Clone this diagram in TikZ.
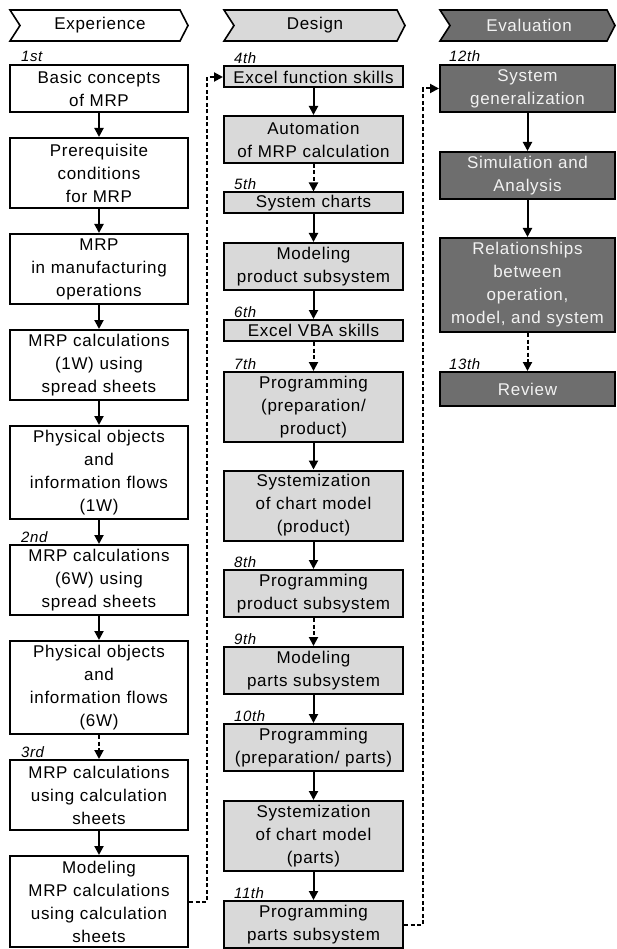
\documentclass[tikz,border=0pt]{standalone}
\usepackage{fontspec}
\setmainfont{Liberation Sans}[LetterSpace=4.0]
\usetikzlibrary{arrows.meta}

\definecolor{designfill}{HTML}{D9D9D9}
\definecolor{evalfill}{HTML}{6E6E6E}
\definecolor{evaltext}{HTML}{F2F2F2}

\begin{document}
\begin{tikzpicture}[x=1pt,y=-1pt,
  stage/.style={draw=black, line width=2pt, inner sep=0pt, align=center,
    font=\fontsize{17}{23}\selectfont},
  expbox/.style={stage, fill=white, minimum width=178pt, text width=176pt},
  desbox/.style={stage, fill=designfill, minimum width=179pt, text width=177pt},
  evbox/.style={stage, fill=evalfill, text=evaltext, minimum width=175pt, text width=173pt},
  hdrshape/.style={draw=black, line width=1.6pt},
  hdrtext/.style={inner sep=0pt, font=\fontsize{17}{20}\selectfont},
  lab/.style={inner sep=0pt, anchor=base west, font=\itshape\fontsize{15}{15}\selectfont},
  flow/.style={line width=2pt, -{Triangle[length=9pt,width=9pt]}},
  dflow/.style={flow, dash pattern=on 4pt off 2.5pt},
]
\useasboundingbox (0,0) rectangle (616,949);
\fill[white] (0,0) rectangle (616,949);

% phase headers
\draw[hdrshape, fill=white] (10,10) -- (180,10) -- (188,25.5) -- (180,41) -- (10,41) -- (20,25.5) -- cycle;
\node[hdrtext] (h1) at (100,25.5) {Experience};
\draw[hdrshape, fill=designfill] (224,10) -- (397,10) -- (405,25.5) -- (397,41) -- (224,41) -- (234,25.5) -- cycle;
\node[hdrtext] (h2) at (315,25.5) {Design};
\draw[hdrshape, fill=evalfill] (440,10) -- (607,10) -- (615,25.5) -- (607,41) -- (440,41) -- (450,25.5) -- cycle;
\node[hdrtext, text=evaltext] (h3) at (529,25.5) {Evaluation};

% Experience column
\node[expbox, minimum height=47pt] (b1) at (99,88.5) {Basic concepts\\of MRP};
\node[expbox, minimum height=70pt] (b2) at (99,173) {Prerequisite\\conditions\\for MRP};
\node[expbox, minimum height=70pt] (b3) at (99,269) {MRP\\in manufacturing\\operations};
\node[expbox, minimum height=70pt] (b4) at (99,365) {MRP calculations\\(1W) using\\spread sheets};
\node[expbox, minimum height=93pt] (b5) at (99,472.5) {Physical objects\\and\\information flows\\(1W)};
\node[expbox, minimum height=70pt] (b6) at (99,580) {MRP calculations\\(6W) using\\spread sheets};
\node[expbox, minimum height=93pt] (b7) at (99,687.5) {Physical objects\\and\\information flows\\(6W)};
\node[expbox, minimum height=70pt] (b8) at (99,795) {MRP calculations\\using calculation\\sheets};
\node[expbox, minimum height=91pt] (b9) at (99,901.5) {Modeling\\MRP calculations\\using calculation\\sheets};

% Design column
\node[desbox, minimum height=21pt] (d1) at (313.5,77) {Excel function skills};
\node[desbox, minimum height=47pt] (d2) at (313.5,139.5) {Automation\\of MRP calculation};
\node[desbox, minimum height=21pt] (d3) at (313.5,203) {System charts};
\node[desbox, minimum height=47pt] (d4) at (313.5,266.5) {Modeling\\product subsystem};
\node[desbox, minimum height=21pt] (d5) at (313.5,330.5) {Excel VBA skills};
\node[desbox, minimum height=70pt] (d6) at (313.5,407) {Programming\\(preparation/\\product)};
\node[desbox, minimum height=70pt] (d7) at (313.5,505.5) {Systemization\\of chart model\\(product)};
\node[desbox, minimum height=47pt] (d8) at (313.5,593.5) {Programming\\product subsystem};
\node[desbox, minimum height=47pt] (d9) at (313.5,670.5) {Modeling\\parts subsystem};
\node[desbox, minimum height=47pt] (d10) at (313.5,747.5) {Programming\\(preparation/ parts)};
\node[desbox, minimum height=70pt] (d11) at (313.5,836) {Systemization\\of chart model\\(parts)};
\node[desbox, minimum height=47pt] (d12) at (313.5,924.5) {Programming\\parts subsystem};

% Evaluation column
\node[evbox, minimum height=47pt] (e1) at (527.5,88.5) {System\\generalization};
\node[evbox, minimum height=47pt] (e2) at (527.5,175.5) {Simulation and\\Analysis};
\node[evbox, minimum height=94pt] (e3) at (527.5,285) {Relationships\\between\\operation,\\model, and system};
\node[evbox, minimum height=34pt] (e4) at (527.5,389) {Review};

% session numbers
\node[lab] (l1)  at ([xshift=12pt,yshift=2pt]b1.north west) {1st};
\node[lab] (l2)  at ([xshift=12pt,yshift=2pt]b6.north west) {2nd};
\node[lab] (l3)  at ([xshift=12pt,yshift=2pt]b8.north west) {3rd};
\node[lab] (l4)  at ([xshift=11pt,yshift=2pt]d1.north west) {4th};
\node[lab] (l5)  at ([xshift=11pt,yshift=2pt]d3.north west) {5th};
\node[lab] (l6)  at ([xshift=11pt,yshift=2pt]d5.north west) {6th};
\node[lab] (l7)  at ([xshift=11pt,yshift=2pt]d6.north west) {7th};
\node[lab] (l8)  at ([xshift=11pt,yshift=2pt]d8.north west) {8th};
\node[lab] (l9)  at ([xshift=11pt,yshift=2pt]d9.north west) {9th};
\node[lab] (l10) at ([xshift=11pt,yshift=2pt]d10.north west) {10th};
\node[lab] (l11) at ([xshift=11pt,yshift=2pt]d12.north west) {11th};
\node[lab] (l12) at ([xshift=10pt,yshift=2pt]e1.north west) {12th};
\node[lab] (l13) at ([xshift=10pt,yshift=2pt]e4.north west) {13th};

% flows within the Experience column
\draw[flow]  (b1.south) -- (b2.north);
\draw[flow]  (b2.south) -- (b3.north);
\draw[flow]  (b3.south) -- (b4.north);
\draw[flow]  (b4.south) -- (b5.north);
\draw[flow]  (b5.south) -- (b6.north);
\draw[flow]  (b6.south) -- (b7.north);
\draw[dflow] (b7.south) -- (b8.north);
\draw[flow]  (b8.south) -- (b9.north);

% flows within the Design column
\draw[flow]  (d1.south) -- (d2.north);
\draw[dflow] (d2.south) -- (d3.north);
\draw[flow]  (d3.south) -- (d4.north);
\draw[flow]  (d4.south) -- (d5.north);
\draw[dflow] (d5.south) -- (d6.north);
\draw[flow]  (d6.south) -- (d7.north);
\draw[flow]  (d7.south) -- (d8.north);
\draw[dflow] (d8.south) -- (d9.north);
\draw[flow]  (d9.south) -- (d10.north);
\draw[flow]  (d10.south) -- (d11.north);
\draw[flow]  (d11.south) -- (d12.north);

% flows within the Evaluation column
\draw[flow]  (e1.south) -- (e2.north);
\draw[flow]  (e2.south) -- (e3.north);
\draw[dflow] (e3.south) -- (e4.north);

% links between phases
\draw[dflow] (b9.east) -- ++(18,0) |- (d1.west);
\draw[dflow] (d12.east) -- ++(19,0) |- (e1.west);
\end{tikzpicture}
\end{document}
